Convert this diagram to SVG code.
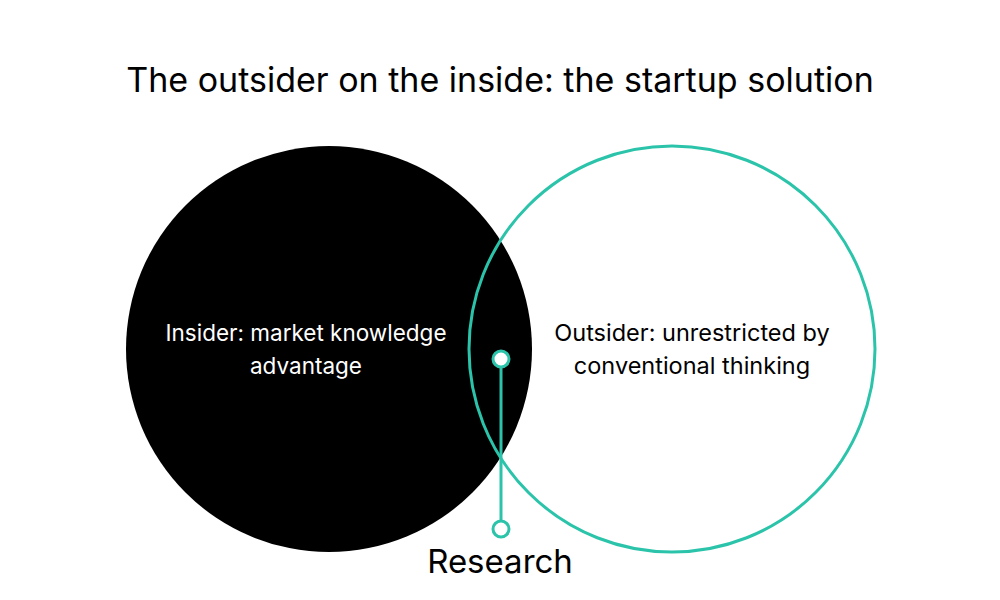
<svg xmlns="http://www.w3.org/2000/svg" width="1000" height="600" viewBox="0 0 1000 600">
  <style>
    text { font-family: Inter, "Noto Sans", "Liberation Sans", sans-serif; text-anchor: middle; }
    .title { font-size: 34px; fill: #000; }
    .lbl { font-size: 22.5px; }
    .teal { stroke: #2BC4AA; stroke-width: 3; }
  </style>
  <rect width="1000" height="600" fill="#ffffff"/>
  <text class="title" x="500" y="92">The outsider on the inside: the startup solution</text>
  <g id="insider">
    <circle cx="329" cy="349" r="203" fill="#000000"/>
    <text class="lbl" x="306" y="341" fill="#ffffff">Insider: market knowledge</text>
    <text class="lbl" x="306" y="374" fill="#ffffff">advantage</text>
  </g>
  <g id="outsider">
    <circle class="teal" cx="672" cy="349" r="203" fill="none"/>
    <text class="lbl" x="692" y="341" fill="#000000" style="font-size:23.5px">Outsider: unrestricted by</text>
    <text class="lbl" x="692" y="374" fill="#000000" style="font-size:23.5px">conventional thinking</text>
  </g>
  <g id="connectors">
    <line class="teal" x1="501" y1="367" x2="501" y2="521"/>
  </g>
  <g id="research">
    <circle class="teal" cx="501" cy="359" r="8" fill="#ffffff"/>
    <circle class="teal" cx="501" cy="529" r="8" fill="#ffffff"/>
    <text x="500" y="573" font-size="33" fill="#000000">Research</text>
  </g>
</svg>
